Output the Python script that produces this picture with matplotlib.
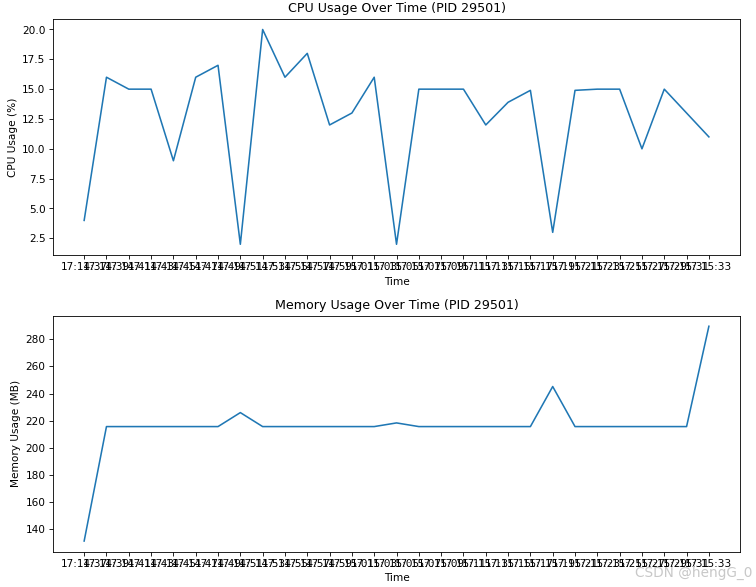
import matplotlib
matplotlib.use("Agg")
from matplotlib import pyplot as plt

pid = 29501

# sample timestamps (every 2 s)
times = ['17:14:37', '17:14:39', '17:14:41', '17:14:43', '17:14:45', '17:14:47',
         '17:14:49', '17:14:51', '17:14:53', '17:14:55', '17:14:57', '17:14:59',
         '17:15:01', '17:15:03', '17:15:05', '17:15:07', '17:15:09', '17:15:11',
         '17:15:13', '17:15:15', '17:15:17', '17:15:19', '17:15:21', '17:15:23',
         '17:15:25', '17:15:27', '17:15:29', '17:15:31', '17:15:33']

cpu_usage = [4, 16, 15, 15, 9, 16, 17, 2, 20, 16, 18, 12, 13, 16, 2,
             15, 15, 15, 12, 13.9, 14.9, 3, 14.9, 15, 15, 10, 15, 13, 11]

memory_usage = [131.4, 215.7, 215.7, 215.7, 215.7, 215.7, 215.7, 226.0, 215.7,
                215.7, 215.7, 215.7, 215.7, 215.7, 218.4, 215.7, 215.7, 215.7,
                215.7, 215.7, 215.7, 245.2, 215.7, 215.7, 215.7, 215.7, 215.7,
                215.7, 289.6]

fig = plt.figure(figsize=(10, 7.765), dpi=75.6)

# CPU
plt.subplot(2, 1, 1)
plt.plot(times, cpu_usage)
plt.title(f'CPU Usage Over Time (PID {pid})')
plt.xlabel('Time')
plt.ylabel('CPU Usage (%)')

# Memory
plt.subplot(2, 1, 2)
plt.plot(times, memory_usage)
plt.title(f'Memory Usage Over Time (PID {pid})')
plt.xlabel('Time')
plt.ylabel('Memory Usage (MB)')

plt.subplots_adjust(left=0.070, right=0.979, top=0.968, bottom=0.060, hspace=0.256)
fig.text(0.995, 0.012, 'CSDN @hengG_0', ha='right', va='bottom',
         fontsize=13, color='#c8c8c8')
plt.savefig('out.png')
